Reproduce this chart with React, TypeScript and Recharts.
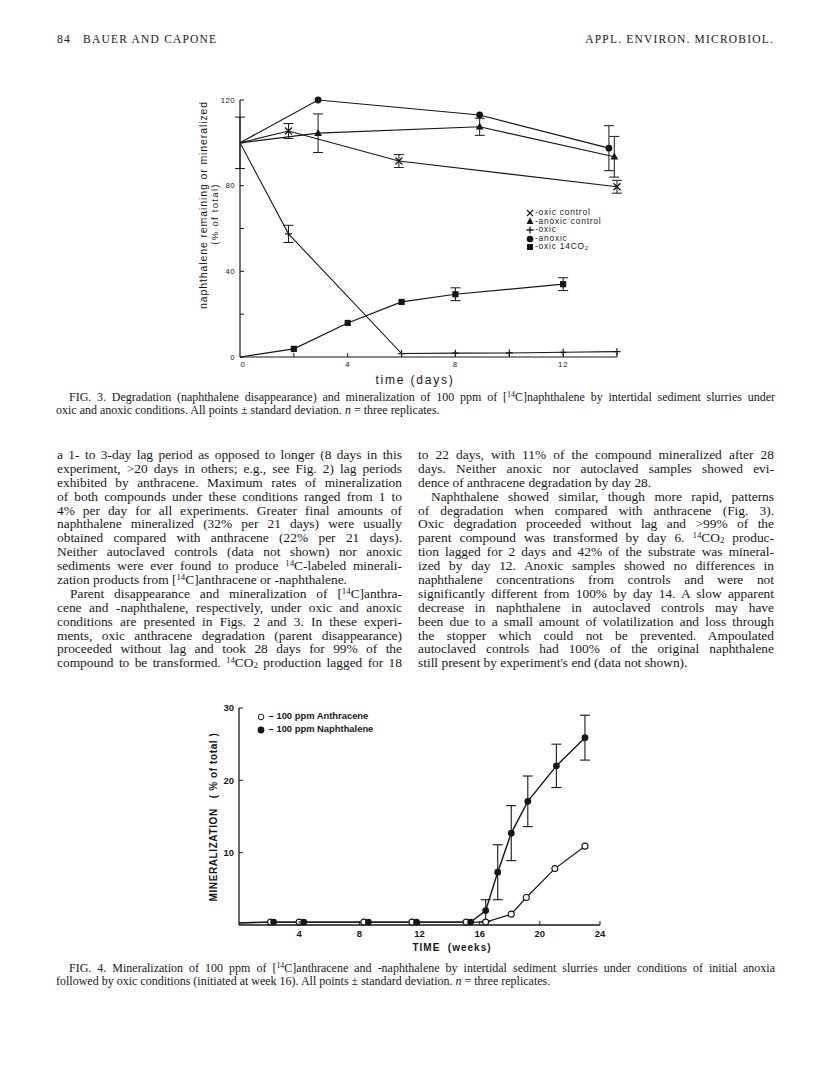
import React from "react";
import { ErrorBar, Line, LineChart, XAxis, YAxis } from "recharts";

// ---- Fig. 3: naphthalene remaining or mineralized (% of total) vs time (days)
const oxicControlDays = [0, 1.8, 5.9, 14];
const oxicControlPct = [100, 105.5, 91.5, 79.5];
const oxicControlSd = [0, 3.5, 3, 3];

const anoxicControlDays = [0, 2.9, 8.9, 13.9];
const anoxicControlPct = [100, 104.5, 107.5, 93.5];
const anoxicControlSd = [12, 9, 4, 9.5];

const oxicDays = [0, 1.8, 6, 8, 10, 12, 14];
const oxicPct = [100, 57.5, 1.6, 1.8, 1.9, 2.2, 2.5];
const oxicSd = [0, 4, 0, 0, 0, 0, 0];

const anoxicDays = [0, 2.9, 8.9, 13.7];
const anoxicPct = [100, 120, 113, 97.5];
const anoxicSd = [0, 0, 0, 10.5];

const co2Days = [0, 2, 4, 6, 8, 12];
const co2Pct = [0, 3.8, 15.9, 25.7, 29.3, 34];
const co2Sd = [0, 0, 0, 0, 3, 3];

const fig3XTicks = [0, 2, 4, 6, 8, 10, 12, 14];
const fig3XLabels = [0, 4, 8, 12];
const fig3YTicks = [0, 20, 40, 60, 80, 100, 120];
const fig3YLabels = [0, 40, 80, 120];

// ---- Fig. 4: mineralization (% of total) vs time (weeks)
const anthWeeks = [0, 2.1, 4.0, 8.3, 11.5, 15.1, 16.4, 18.1, 19.1, 21.0, 23.0];
const anthPct = [0.3, 0.4, 0.4, 0.4, 0.4, 0.4, 0.4, 1.5, 3.8, 7.8, 10.9];

const naphWeeks = [0, 2.3, 4.3, 8.6, 11.8, 15.4, 16.4, 17.2, 18.1, 19.2, 21.1, 23.0];
const naphPct = [0.3, 0.4, 0.4, 0.4, 0.4, 0.4, 2.0, 7.3, 12.7, 17.1, 22.0, 25.9];
const naphSd = [0, 0, 0, 0, 0, 0, 1.5, 3.8, 3.8, 3.5, 3.0, 3.1];

const fig4XTicks = [0, 4, 8, 12, 16, 20, 24];
const fig4YTicks = [0, 10, 20, 30];

const rows = (xs: number[], ys: number[], sd: number[]) =>
  xs.map((x, i) => ({ x, y: ys[i], sd: sd[i] }));

const INK = "#161616";
const SANS = "'Liberation Sans', Arial, sans-serif";
const SERIF = "'Liberation Serif', 'Times New Roman', serif";

type DotP = { cx?: number; cy?: number; index?: number };
const hidden = (p: DotP) => p.index === 0 || p.cx == null || p.cy == null;

function XMark(p: DotP) {
  const k = `xm-${p.index}`;
  if (hidden(p)) return <g key={k} />;
  const { cx = 0, cy = 0 } = p;
  const s = 3.5;
  return (
    <path key={k} d={`M${cx - s},${cy - s}L${cx + s},${cy + s}M${cx + s},${cy - s}L${cx - s},${cy + s}`} stroke={INK} strokeWidth={1.3} fill="none" />
  );
}

function TriMark(p: DotP) {
  const k = `tm-${p.index}`;
  if (hidden(p)) return <g key={k} />;
  const { cx = 0, cy = 0 } = p;
  return <path key={k} d={`M${cx},${cy - 4.2}L${cx + 3.9},${cy + 2.8}L${cx - 3.9},${cy + 2.8}Z`} fill={INK} />;
}

function PlusMark(p: DotP) {
  const k = `pm-${p.index}`;
  if (hidden(p)) return <g key={k} />;
  const { cx = 0, cy = 0 } = p;
  return <path key={k} d={`M${cx - 3.5},${cy}L${cx + 3.5},${cy}M${cx},${cy - 3.5}L${cx},${cy + 3.5}`} stroke={INK} strokeWidth={1.2} />;
}

function DiscMark(p: DotP) {
  const k = `dm-${p.index}`;
  if (hidden(p)) return <g key={k} />;
  return <circle key={k} cx={p.cx} cy={p.cy} r={3.4} fill={INK} />;
}

function SquareMark(p: DotP) {
  const k = `sm-${p.index}`;
  if (hidden(p)) return <g key={k} />;
  const { cx = 0, cy = 0 } = p;
  return <rect key={k} x={cx - 3.1} y={cy - 3.1} width={6.2} height={6.2} fill={INK} />;
}

function OpenMark(p: DotP) {
  const k = `om-${p.index}`;
  if (hidden(p)) return <g key={k} />;
  return <circle key={k} cx={p.cx} cy={p.cy} r={3} fill="#fff" stroke={INK} strokeWidth={1.1} />;
}

function FilledMark(p: DotP) {
  const k = `fm-${p.index}`;
  if (hidden(p)) return <g key={k} />;
  return <circle key={k} cx={p.cx} cy={p.cy} r={3.4} fill={INK} />;
}

type TickP = { x?: number; y?: number; payload?: { value: number } };

// tickSize 0 + tickMargin 4 => x is 4px left of the axis line
function fig3YTick(p: TickP) {
  const { x = 0, y = 0, payload } = p;
  const v = payload ? payload.value : 0;
  return (
    <g>
      <line x1={x + 4} x2={x + 8} y1={y} y2={y} stroke={INK} strokeWidth={1} />
      {fig3YLabels.includes(v) && (
        <text x={x - 1} y={y + (v === 0 ? 3 : 2.6)} textAnchor="end" fontSize={7.8} fontFamily={SANS} fill={INK} letterSpacing={0.4}>
          {v}
        </text>
      )}
    </g>
  );
}

function fig3XTick(p: TickP) {
  const { x = 0, y = 0, payload } = p;
  const v = payload ? payload.value : 0;
  return (
    <g>
      {v !== 0 && <line x1={x} x2={x} y1={y - 4} y2={y - 8} stroke={INK} strokeWidth={1} />}
      {fig3XLabels.includes(v) && (
        <text x={x + (v === 0 ? 3 : 0)} y={y + 5.5} textAnchor="middle" fontSize={7.8} fontFamily={SANS} fill={INK} letterSpacing={0.8}>
          {v}
        </text>
      )}
    </g>
  );
}

function fig4YTick(p: TickP) {
  const { x = 0, y = 0, payload } = p;
  const v = payload ? payload.value : 0;
  if (v === 0) return <g />;
  return (
    <g>
      <line x1={x + 4} x2={x + 8} y1={y} y2={y} stroke={INK} strokeWidth={1} />
      <text x={x - 1} y={y + 3.3} textAnchor="end" fontSize={9.5} fontWeight="bold" fontFamily={SANS} fill={INK}>
        {v}
      </text>
    </g>
  );
}

function fig4XTick(p: TickP) {
  const { x = 0, y = 0, payload } = p;
  const v = payload ? payload.value : 0;
  if (v === 0) return <g />;
  return (
    <g>
      <line x1={x} x2={x} y1={y - 4} y2={y - 8} stroke={INK} strokeWidth={1} />
      <text x={x} y={y + 7.5} textAnchor="middle" fontSize={9.5} fontWeight="bold" fontFamily={SANS} fill={INK}>
        {v}
      </text>
    </g>
  );
}

// "{14}" -> superscript, "_2" -> subscript, "*n*" -> italic n
function rich(s: string) {
  return s.split(/(\{\d+\}|_2|\*n\*)/).map((part, i) => {
    if (/^\{\d+\}$/.test(part))
      return (
        <span key={i} style={{ fontSize: "0.66em", verticalAlign: "0.45em", lineHeight: 0 }}>
          {part.slice(1, -1)}
        </span>
      );
    if (part === "_2")
      return (
        <span key={i} style={{ fontSize: "0.66em", verticalAlign: "-0.12em", lineHeight: 0 }}>
          2
        </span>
      );
    if (part === "*n*") return <i key={i}>n</i>;
    return <React.Fragment key={i}>{part}</React.Fragment>;
  });
}

type TLine = { t: string; indent?: boolean; last?: boolean };

const leftLines: TLine[] = [
  { t: "a 1- to 3-day lag period as opposed to longer (8 days in this" },
  { t: "experiment, >20 days in others; e.g., see Fig. 2) lag periods" },
  { t: "exhibited by anthracene. Maximum rates of mineralization" },
  { t: "of both compounds under these conditions ranged from 1 to" },
  { t: "4% per day for all experiments. Greater final amounts of" },
  { t: "naphthalene mineralized (32% per 21 days) were usually" },
  { t: "obtained compared with anthracene (22% per 21 days)." },
  { t: "Neither autoclaved controls (data not shown) nor anoxic" },
  { t: "sediments were ever found to produce {14}C-labeled minerali-" },
  { t: "zation products from [{14}C]anthracene or -naphthalene.", last: true },
  { t: "Parent disappearance and mineralization of [{14}C]anthra-", indent: true },
  { t: "cene and -naphthalene, respectively, under oxic and anoxic" },
  { t: "conditions are presented in Figs. 2 and 3. In these experi-" },
  { t: "ments, oxic anthracene degradation (parent disappearance)" },
  { t: "proceeded without lag and took 28 days for 99% of the" },
  { t: "compound to be transformed. {14}CO_2 production lagged for 18" },
];

const rightLines: TLine[] = [
  { t: "to 22 days, with 11% of the compound mineralized after 28" },
  { t: "days. Neither anoxic nor autoclaved samples showed evi-" },
  { t: "dence of anthracene degradation by day 28.", last: true },
  { t: "Naphthalene showed similar, though more rapid, patterns", indent: true },
  { t: "of degradation when compared with anthracene (Fig. 3)." },
  { t: "Oxic degradation proceeded without lag and >99% of the" },
  { t: "parent compound was transformed by day 6. {14}CO_2 produc-" },
  { t: "tion lagged for 2 days and 42% of the substrate was mineral-" },
  { t: "ized by day 12. Anoxic samples showed no differences in" },
  { t: "naphthalene concentrations from controls and were not" },
  { t: "significantly different from 100% by day 14. A slow apparent" },
  { t: "decrease in naphthalene in autoclaved controls may have" },
  { t: "been due to a small amount of volatilization and loss through" },
  { t: "the stopper which could not be prevented. Ampoulated" },
  { t: "autoclaved controls had 100% of the original naphthalene" },
  { t: "still present by experiment's end (data not shown).", last: true },
];

const fig3Caption: TLine[] = [
  { t: "FIG. 3. Degradation (naphthalene disappearance) and mineralization of 100 ppm of [{14}C]naphthalene by intertidal sediment slurries under", indent: true },
  { t: "oxic and anoxic conditions. All points \u00b1 standard deviation. *n* = three replicates.", last: true },
];

const fig4Caption: TLine[] = [
  { t: "FIG. 4. Mineralization of 100 ppm of [{14}C]anthracene and -naphthalene by intertidal sediment slurries under conditions of initial anoxia", indent: true },
  { t: "followed by oxic conditions (initiated at week 16). All points \u00b1 standard deviation. *n* = three replicates.", last: true },
];

function TextBlock({ lines, left, top, width, fontSize, lineHeight, indent }: { lines: TLine[]; left: number; top: number; width: number; fontSize: number; lineHeight: number; indent: number }) {
  return (
    <div style={{ position: "absolute", left, top, width, fontFamily: SERIF, fontSize, lineHeight: `${lineHeight}px`, color: INK }}>
      {lines.map((l, i) => (
        <div
          key={i}
          style={{
            height: lineHeight,
            whiteSpace: "nowrap",
            textAlign: "justify",
            textAlignLast: l.last ? "left" : "justify",
            paddingLeft: l.indent ? indent : 0,
          }}
        >
          {rich(l.t)}
        </div>
      ))}
    </div>
  );
}

function Rot({ x, y, children, style }: { x: number; y: number; children: React.ReactNode; style: React.CSSProperties }) {
  return (
    <div style={{ position: "absolute", left: x, top: y, transform: "translate(-50%, -50%) rotate(-90deg)", whiteSpace: "nowrap", color: INK, ...style }}>
      {children}
    </div>
  );
}

function Center({ x, y, children, style }: { x: number; y: number; children: React.ReactNode; style: React.CSSProperties }) {
  return (
    <div style={{ position: "absolute", left: x, top: y, transform: "translate(-50%, -50%)", whiteSpace: "nowrap", color: INK, ...style }}>
      {children}
    </div>
  );
}

const legend3 = [
  { label: "-oxic control", mark: "x" },
  { label: "-anoxic control", mark: "tri" },
  { label: "-oxic", mark: "plus" },
  { label: "-anoxic", mark: "disc" },
  { label: "-oxic 14CO_2", mark: "sq" },
];

function LegendGlyph({ mark }: { mark: string }) {
  return (
    <svg width={8} height={8} style={{ display: "inline-block", verticalAlign: "middle", marginRight: 1 }}>
      {mark === "x" && <path d="M1,1L7,7M7,1L1,7" stroke={INK} strokeWidth={1.1} />}
      {mark === "tri" && <path d="M4,0.5L7.5,7L0.5,7Z" fill={INK} />}
      {mark === "plus" && <path d="M0.5,4L7.5,4M4,0.5L4,7.5" stroke={INK} strokeWidth={1.3} />}
      {mark === "disc" && <circle cx={4} cy={4} r={3.3} fill={INK} />}
      {mark === "sq" && <rect x={1} y={1} width={6} height={6} fill={INK} />}
      {mark === "open" && <circle cx={4} cy={4} r={2.8} fill="#fff" stroke={INK} strokeWidth={1} />}
      {mark === "filled" && <circle cx={4} cy={4} r={3.4} fill={INK} />}
    </svg>
  );
}

export default function App() {
  return (
    <div style={{ position: "absolute", left: 0, top: 0, width: 816, height: 1074, background: "#fff", overflow: "hidden" }}>
      {/* running head */}
      <div style={{ position: "absolute", left: 57, top: 33, fontFamily: SERIF, fontSize: 11.5, letterSpacing: 1.2, color: INK, whiteSpace: "pre" }}>
        {"84   BAUER AND CAPONE"}
      </div>
      <div style={{ position: "absolute", right: 42, top: 33, fontFamily: SERIF, fontSize: 11.5, letterSpacing: 1.2, color: INK }}>
        APPL. ENVIRON. MICROBIOL.
      </div>

      {/* Fig. 3 */}
      <div style={{ position: "absolute", left: 180, top: 90 }}>
        <LineChart width={460} height={300} margin={{ top: 10, right: 23, bottom: 13, left: 30 }}>
          <XAxis
            type="number"
            dataKey="x"
            domain={[0, 14]}
            ticks={fig3XTicks}
            interval={0}
            height={20}
            tickSize={0}
            tickMargin={4}
            tickLine={false}
            axisLine={{ stroke: INK, strokeWidth: 1.2 }}
            tick={fig3XTick}
          />
          <YAxis
            type="number"
            domain={[0, 120]}
            ticks={fig3YTicks}
            interval={0}
            width={30}
            tickSize={0}
            tickMargin={4}
            tickLine={false}
            axisLine={{ stroke: INK, strokeWidth: 1.2 }}
            tick={fig3YTick}
          />
          <Line data={rows(oxicControlDays, oxicControlPct, oxicControlSd)} dataKey="y" type="linear" stroke={INK} strokeWidth={1.1} dot={XMark} isAnimationActive={false}>
            <ErrorBar dataKey="sd" width={5} stroke={INK} strokeWidth={1} direction="y" />
          </Line>
          <Line data={rows(anoxicControlDays, anoxicControlPct, anoxicControlSd)} dataKey="y" type="linear" stroke={INK} strokeWidth={1.2} dot={TriMark} isAnimationActive={false}>
            <ErrorBar dataKey="sd" width={5} stroke={INK} strokeWidth={1} direction="y" />
          </Line>
          <Line data={rows(oxicDays, oxicPct, oxicSd)} dataKey="y" type="linear" stroke={INK} strokeWidth={1.1} dot={PlusMark} isAnimationActive={false}>
            <ErrorBar dataKey="sd" width={5} stroke={INK} strokeWidth={1} direction="y" />
          </Line>
          <Line data={rows(anoxicDays, anoxicPct, anoxicSd)} dataKey="y" type="linear" stroke={INK} strokeWidth={1.2} dot={DiscMark} isAnimationActive={false}>
            <ErrorBar dataKey="sd" width={5} stroke={INK} strokeWidth={1} direction="y" />
          </Line>
          <Line data={rows(co2Days, co2Pct, co2Sd)} dataKey="y" type="linear" stroke={INK} strokeWidth={1.2} dot={SquareMark} isAnimationActive={false}>
            <ErrorBar dataKey="sd" width={5} stroke={INK} strokeWidth={1} direction="y" />
          </Line>
        </LineChart>
      </div>

      <Rot x={203} y={205} style={{ fontFamily: SANS, fontSize: 10.5, letterSpacing: 0.9 }}>
        naphthalene remaining or mineralized
      </Rot>
      <Rot x={214} y={214} style={{ fontFamily: SANS, fontSize: 9.5, letterSpacing: 1.3 }}>
        (% of total)
      </Rot>
      <Center x={415} y={380} style={{ fontFamily: SANS, fontSize: 12, letterSpacing: 1.8 }}>
        time (days)
      </Center>

      <div style={{ position: "absolute", left: 526, top: 208, fontFamily: SANS, fontSize: 8.4, letterSpacing: 0.8, lineHeight: "8.6px", color: INK }}>
        {legend3.map((e) => (
          <div key={e.label} style={{ whiteSpace: "nowrap", height: 8.6 }}>
            <LegendGlyph mark={e.mark} />
            {rich(e.label)}
          </div>
        ))}
      </div>

      <TextBlock lines={fig3Caption} left={56} top={391} width={719} fontSize={12} lineHeight={12.8} indent={13} />

      <TextBlock lines={leftLines} left={57} top={448} width={345} fontSize={13.4} lineHeight={13.9} indent={13} />
      <TextBlock lines={rightLines} left={418} top={448} width={356} fontSize={13.4} lineHeight={13.9} indent={13} />

      {/* Fig. 4 */}
      <div style={{ position: "absolute", left: 180, top: 690 }}>
        <LineChart width={440} height={270} margin={{ top: 18, right: 20, bottom: 10, left: 29 }}>
          <XAxis
            type="number"
            dataKey="x"
            domain={[0, 24]}
            ticks={fig4XTicks}
            interval={0}
            height={25}
            tickSize={0}
            tickMargin={4}
            tickLine={false}
            axisLine={{ stroke: INK, strokeWidth: 1.4 }}
            tick={fig4XTick}
          />
          <YAxis
            type="number"
            domain={[0, 30]}
            ticks={fig4YTicks}
            interval={0}
            width={30}
            tickSize={0}
            tickMargin={4}
            tickLine={false}
            axisLine={{ stroke: INK, strokeWidth: 1.3 }}
            tick={fig4YTick}
          />
          <Line data={rows(anthWeeks, anthPct, anthWeeks.map(() => 0))} dataKey="y" type="linear" stroke={INK} strokeWidth={1.2} dot={OpenMark} isAnimationActive={false} />
          <Line data={rows(naphWeeks, naphPct, naphSd)} dataKey="y" type="linear" stroke={INK} strokeWidth={1.4} dot={FilledMark} isAnimationActive={false}>
            <ErrorBar dataKey="sd" width={5} stroke={INK} strokeWidth={1.1} direction="y" />
          </Line>
        </LineChart>
      </div>

      <div style={{ position: "absolute", left: 257, top: 709, fontFamily: SANS, fontSize: 9.4, fontWeight: "bold", lineHeight: "13px", color: INK }}>
        <div style={{ whiteSpace: "nowrap" }}>
          <LegendGlyph mark="open" /> {"\u2013 100 ppm  Anthracene"}
        </div>
        <div style={{ whiteSpace: "nowrap" }}>
          <LegendGlyph mark="filled" /> {"\u2013 100 ppm  Naphthalene"}
        </div>
      </div>

      <Rot x={213} y={817} style={{ fontFamily: SANS, fontSize: 10, fontWeight: "bold", letterSpacing: 0.6, whiteSpace: "pre" }}>
        {"MINERALIZATION   ( % of total )"}
      </Rot>
      <Center x={452} y={947} style={{ fontFamily: SANS, fontSize: 10, fontWeight: "bold", letterSpacing: 1, whiteSpace: "pre" }}>
        {"TIME  (weeks)"}
      </Center>

      <TextBlock lines={fig4Caption} left={56} top={962} width={719} fontSize={12} lineHeight={12.8} indent={13} />
    </div>
  );
}
